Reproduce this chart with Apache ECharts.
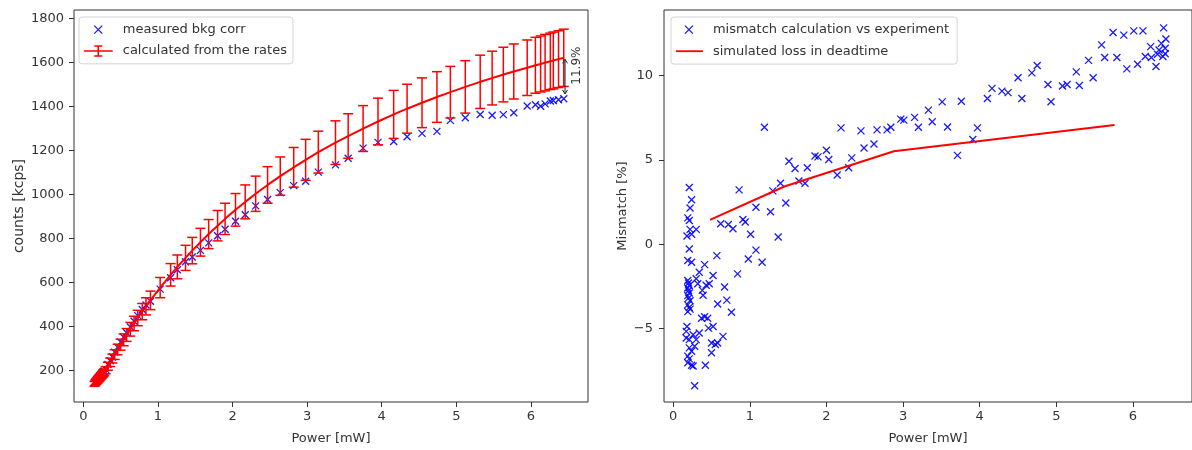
<!DOCTYPE html>
<html>
<head>
<meta charset="utf-8">
<script src="https://cdn.jsdelivr.net/npm/echarts@6/dist/echarts.min.js"></script>
<style>
  html, body { margin: 0; padding: 0; background: #ffffff; }
  #chart { width: 1192px; height: 450px; }
</style>
</head>
<body>
<div id="chart"></div>
<script>
// ---- left panel: count rates vs. optical power ----
const power = [
  0.15, 0.16, 0.17, 0.18, 0.19, 0.20, 0.21, 0.22, 0.23, 0.24,
  0.25, 0.26, 0.27, 0.28, 0.30, 0.33, 0.36, 0.39, 0.42, 0.46,
  0.50, 0.54, 0.58, 0.63, 0.68, 0.73, 0.79, 0.84, 0.90, 1.03,
  1.17, 1.26, 1.37, 1.46, 1.57, 1.68, 1.80, 1.90, 2.04, 2.17,
  2.31, 2.47, 2.64, 2.82, 2.98, 3.15, 3.38, 3.55, 3.75, 3.95,
  4.16, 4.34, 4.54, 4.74, 4.92, 5.12, 5.32, 5.48, 5.63, 5.77,
  5.95, 6.06, 6.13, 6.19, 6.26, 6.30, 6.37, 6.44
];
const measuredCounts = [
  146, 151, 153, 160, 161, 168, 166, 176, 178, 181,
  188, 190, 196, 198, 206, 228, 245, 262, 284, 306,
  330, 352, 372, 398, 424, 450, 478, 498, 515, 570,
  622, 658, 694, 716, 746, 780, 812, 842, 878, 908,
  948, 977, 1008, 1040, 1060, 1101, 1134, 1164, 1210, 1236,
  1240, 1262, 1277, 1286, 1336, 1348, 1363, 1359, 1362, 1371,
  1401, 1407, 1400, 1411, 1424, 1426, 1430, 1434
];
const calculatedCounts = [
  140, 145, 149, 153, 157, 161, 165, 169, 173, 177,
  181, 185, 189, 193, 202, 220, 238, 255, 273, 296,
  318, 340, 362, 388, 414, 439, 468, 492, 519, 577,
  635, 671, 712, 745, 783, 820, 858, 889, 930, 966,
  1003, 1043, 1083, 1123, 1157, 1192, 1235, 1265, 1299, 1331,
  1363, 1389, 1416, 1442, 1464, 1488, 1511, 1528, 1544, 1558,
  1575, 1586, 1592, 1598, 1604, 1608, 1614, 1620
];
const calculatedError = [
  11, 12, 12, 12, 13, 13, 13, 14, 14, 14,
  14, 15, 15, 15, 16, 18, 19, 20, 22, 24,
  25, 27, 29, 31, 33, 35, 37, 39, 42, 46,
  51, 54, 57, 60, 63, 66, 69, 71, 74, 77,
  80, 83, 87, 90, 93, 95, 99, 101, 104, 106,
  109, 111, 113, 115, 117, 119, 121, 122, 124, 125,
  126, 127, 127, 128, 128, 129, 129, 130
];
// gap marker at the highest power
const gapPower = [6.457];
const gapTop = [1613];
const gapBottom = [1456];
const gapLabel = ['11.9%'];

// ---- right panel: mismatch vs. power ----
const mismatchPower = [
  0.21, 0.24, 0.22, 0.19, 0.21, 0.22, 0.18, 0.24, 0.30, 0.21,
  0.19, 0.24, 0.19, 0.20, 0.21, 0.19, 0.20, 0.21, 0.19, 0.20,
  0.22, 0.19, 0.21, 0.19, 0.22, 0.17, 0.17, 0.21, 0.26, 0.21,
  0.24, 0.19, 0.21, 0.24, 0.26, 0.28, 0.34, 0.30, 0.28, 0.37,
  0.41, 0.45, 0.46, 0.50, 0.50, 0.42, 0.65, 0.58, 0.30, 0.34,
  0.41, 0.32, 0.39, 0.38, 0.47, 0.52, 0.57, 0.58, 0.67, 0.70,
  0.76, 0.84, 0.62, 0.72, 0.78, 0.86, 0.91, 0.94, 1.01, 1.08,
  0.98, 1.16, 1.08, 1.27, 1.37, 1.30, 1.40, 1.47, 1.19, 1.51,
  1.59, 1.64, 1.72, 1.75, 1.85, 1.89, 2.00, 2.03, 2.14, 2.19,
  2.29, 2.33, 2.45, 2.49, 2.62, 2.66, 2.79, 2.84, 2.97, 3.01,
  3.15, 3.20, 3.33, 3.38, 3.51, 3.58, 3.71, 3.76, 3.91, 3.97,
  4.10, 4.16, 4.29, 4.37, 4.50, 4.55, 4.68, 4.75, 4.89, 4.93,
  5.08, 5.14, 5.26, 5.30, 5.42, 5.48, 5.59, 5.63, 5.74, 5.79,
  5.88, 5.92, 6.01, 6.06, 6.13, 6.16, 6.23, 6.24, 6.30, 6.32,
  6.34, 6.37, 6.39, 6.40, 6.42, 6.43, 6.42, 0.18, 0.19, 0.43,
  0.55, 0.52
];
const mismatchValue = [
  3.36, 2.64, 2.15, 1.56, 1.40, 0.88, 0.49, 0.59, 0.88, -0.29,
  -0.97, -1.07, -2.15, -2.30, -2.45, -2.60, -2.75, -2.90, -3.05, -3.20,
  -3.35, -3.60, -3.75, -4.00, -3.85, -5.17, -5.56, -5.66, -5.37, -6.15,
  -6.35, -6.64, -6.80, -7.18, -7.22, -8.40, -5.27, -5.66, -6.05, -4.39,
  -4.30, -4.39, -4.98, -5.86, -6.44, -7.18, -5.47, -5.86, -2.05, -1.66,
  -1.21, -2.35, -3.03, -2.74, -2.35, -1.86, -0.68, -3.55, -2.54, -3.32,
  -4.04, -1.76, 1.21, 1.17, 0.92, 3.22, 1.46, 1.32, 0.59, -0.35,
  -0.88, -1.07, 2.19, 1.92, 0.43, 3.16, 3.61, 2.44, 6.94, 4.92,
  4.49, 3.75, 3.61, 4.53, 5.23, 5.18, 5.57, 5.02, 4.10, 6.90,
  4.53, 5.12, 6.72, 5.71, 5.94, 6.78, 6.78, 6.94, 7.42, 7.36,
  7.52, 6.94, 7.95, 7.26, 8.44, 6.95, 5.27, 8.48, 6.21, 6.90,
  8.64, 9.24, 9.08, 8.99, 9.87, 8.64, 10.16, 10.60, 9.47, 8.45,
  9.38, 9.47, 10.22, 9.41, 10.90, 9.87, 11.82, 11.07, 12.56, 11.07,
  12.40, 10.40, 12.65, 10.67, 12.65, 11.13, 11.72, 11.07, 10.54, 11.27,
  11.52, 11.91, 11.13, 12.83, 11.62, 12.17, 11.30, -4.88, -7.03, -2.44,
  -5.95, -4.88
];
const deadtimePower = [0.48, 1.45, 2.88, 5.76];
const deadtimeLoss = [1.44, 3.42, 5.51, 7.07];

// ---- tick values ----
const powerTicks = [0, 1, 2, 3, 4, 5, 6];
const countTicks = [200, 400, 600, 800, 1000, 1200, 1400, 1600, 1800];
const mismatchTicks = [-5, 0, 5, 10];

const FONT = "'DejaVu Sans', sans-serif";
const INK = '#333333';
const BLUE = '#0000ff';
const RED = '#ff0000';

// cross marker ("x") as a stroked path
const crossSymbol = 'path://M0,0L10,10M10,0L0,10';
// legend handles, drawn inside boxes of itemWidth x itemHeight
const crossIconLeft = 'path://M0,0M34,14M10.5,3L18.5,11M18.5,3L10.5,11';
const errorIcon = 'path://M0,0M34,14M0,7L29,7M14.5,2L14.5,12M10.5,2L18.5,2M10.5,12L18.5,12';
const crossIconRight = 'path://M0,0M32,14M9,3L17,11M17,3L9,11';
const lineIcon = 'path://M0,0M32,14M0,7L27,7';

const minusSign = v => String(v).replace('-', '\u2212');

function valueAxis(gridIndex, min, max, ticks, name, nameGap, nameSize, labelMargin) {
  return {
    type: 'value',
    gridIndex: gridIndex,
    min: min,
    max: max,
    name: name,
    nameLocation: 'middle',
    nameGap: nameGap,
    nameTextStyle: { fontFamily: FONT, fontSize: nameSize, color: INK },
    axisLine: { show: false, onZero: false },
    axisTick: { show: true, length: 5, lineStyle: { color: INK, width: 1 }, customValues: ticks },
    axisLabel: {
      customValues: ticks,
      margin: labelMargin,
      fontFamily: FONT,
      fontSize: 13,
      color: INK,
      formatter: minusSign
    },
    splitLine: { show: false }
  };
}

function renderErrorBar(params, api) {
  const x = api.value(0);
  const hi = api.coord([x, api.value(2)]);
  const lo = api.coord([x, api.value(1)]);
  const cap = 5;
  const style = { stroke: RED, lineWidth: 1.5, fill: null };
  return {
    type: 'group',
    children: [
      { type: 'line', shape: { x1: hi[0], y1: hi[1], x2: lo[0], y2: lo[1] }, style: style },
      { type: 'line', shape: { x1: hi[0] - cap, y1: hi[1], x2: hi[0] + cap, y2: hi[1] }, style: style },
      { type: 'line', shape: { x1: lo[0] - cap, y1: lo[1], x2: lo[0] + cap, y2: lo[1] }, style: style }
    ]
  };
}

function renderGap(params, api) {
  const x = api.value(0);
  const top = api.coord([x, api.value(1)]);
  const bot = api.coord([x, api.value(2)]);
  const w = 2.5, h = 4;
  const st = { stroke: '#222222', lineWidth: 1, fill: null };
  return {
    type: 'group',
    children: [
      { type: 'line', shape: { x1: top[0], y1: top[1], x2: bot[0], y2: bot[1] }, style: st },
      { type: 'polyline', shape: { points: [[top[0] - w, top[1] + h], [top[0], top[1]], [top[0] + w, top[1] + h]] }, style: st },
      { type: 'polyline', shape: { points: [[bot[0] - w, bot[1] - h], [bot[0], bot[1]], [bot[0] + w, bot[1] - h]] }, style: st },
      {
        type: 'text',
        x: top[0] + 12,
        y: (top[1] + bot[1]) / 2 - 11,
        rotation: Math.PI / 2,
        style: {
          text: gapLabel[params.dataIndex],
          fontFamily: FONT,
          fontSize: 12,
          fill: INK,
          align: 'center',
          verticalAlign: 'middle'
        }
      }
    ]
  };
}

const legendCommon = {
  orient: 'vertical',
  itemWidth: 34,
  itemHeight: 14,
  itemGap: 6,
  padding: [5, 6, 5, 4],
  backgroundColor: 'rgba(255,255,255,0.8)',
  borderColor: '#d4d4d4',
  borderWidth: 1,
  borderRadius: 3,
  selectedMode: false,
  textStyle: { fontFamily: FONT, fontSize: 13, color: INK, lineHeight: 14 }
};

const option = {
  animation: false,
  backgroundColor: '#ffffff',
  grid: [
    { left: 74, top: 10, width: 514, height: 397, show: true, borderColor: INK, borderWidth: 1, backgroundColor: 'transparent' },
    { left: 664, top: 10, width: 534, height: 397, show: true, borderColor: INK, borderWidth: 1, backgroundColor: 'transparent' }
  ],
  xAxis: [
    valueAxis(0, -0.125, 6.765, powerTicks, 'Power [mW]', 30, 13, 8),
    valueAxis(1, -0.12, 6.77, powerTicks, 'Power [mW]', 30, 13, 8)
  ],
  yAxis: [
    valueAxis(0, 57.8, 1837, countTicks, 'counts [kcps]', 48, 14, 10),
    valueAxis(1, -9.36, 13.89, mismatchTicks, 'Mismatch [%]', 35, 13, 11)
  ],
  legend: [
    Object.assign({}, legendCommon, {
      left: 79, top: 17,
      data: [
        { name: 'measured bkg corr', icon: crossIconLeft,
          itemStyle: { color: 'rgba(0,0,0,0)', borderColor: BLUE, borderWidth: 1.3 } },
        { name: 'calculated from the rates', icon: errorIcon,
          itemStyle: { color: 'rgba(0,0,0,0)', borderColor: RED, borderWidth: 1.5 } }
      ]
    }),
    Object.assign({}, legendCommon, {
      left: 671, top: 17,
      itemWidth: 32,
      padding: [5, 8, 5, 4],
      data: [
        { name: 'mismatch calculation vs experiment', icon: crossIconRight,
          itemStyle: { color: 'rgba(0,0,0,0)', borderColor: BLUE, borderWidth: 1.3 } },
        { name: 'simulated loss in deadtime', icon: lineIcon,
          itemStyle: { color: 'rgba(0,0,0,0)', borderColor: RED, borderWidth: 1.8 } }
      ]
    })
  ],
  series: [
    {
      name: 'measured bkg corr',
      type: 'scatter',
      xAxisIndex: 0, yAxisIndex: 0,
      symbol: crossSymbol,
      symbolSize: 7,
      itemStyle: { color: 'rgba(0,0,0,0)', borderColor: BLUE, borderWidth: 1.3, opacity: 0.9 },
      data: power.map((p, i) => [p, measuredCounts[i]]),
      z: 2
    },
    {
      name: 'calculated from the rates',
      type: 'custom',
      xAxisIndex: 0, yAxisIndex: 0,
      renderItem: renderErrorBar,
      encode: { x: 0, y: [1, 2] },
      data: power.map((p, i) => [p, calculatedCounts[i] - calculatedError[i], calculatedCounts[i] + calculatedError[i]]),
      z: 3
    },
    {
      name: 'calculated from the rates',
      type: 'line',
      xAxisIndex: 0, yAxisIndex: 0,
      showSymbol: false,
      symbol: 'none',
      lineStyle: { color: RED, width: 2 },
      itemStyle: { color: RED },
      data: power.map((p, i) => [p, calculatedCounts[i]]),
      z: 4
    },
    {
      name: 'gap',
      type: 'custom',
      xAxisIndex: 0, yAxisIndex: 0,
      renderItem: renderGap,
      encode: { x: 0, y: [1, 2] },
      data: gapPower.map((p, i) => [p, gapTop[i], gapBottom[i]]),
      z: 5
    },
    {
      name: 'mismatch calculation vs experiment',
      type: 'scatter',
      xAxisIndex: 1, yAxisIndex: 1,
      symbol: crossSymbol,
      symbolSize: 7,
      itemStyle: { color: 'rgba(0,0,0,0)', borderColor: BLUE, borderWidth: 1.3, opacity: 0.9 },
      data: mismatchPower.map((p, i) => [p, mismatchValue[i]]),
      z: 2
    },
    {
      name: 'simulated loss in deadtime',
      type: 'line',
      xAxisIndex: 1, yAxisIndex: 1,
      showSymbol: false,
      symbol: 'none',
      lineStyle: { color: RED, width: 2 },
      itemStyle: { color: RED },
      data: deadtimePower.map((p, i) => [p, deadtimeLoss[i]]),
      z: 3
    }
  ]
};

const chart = echarts.init(document.getElementById('chart'), null, { renderer: 'canvas' });
chart.setOption(option);
</script>
</body>
</html>
